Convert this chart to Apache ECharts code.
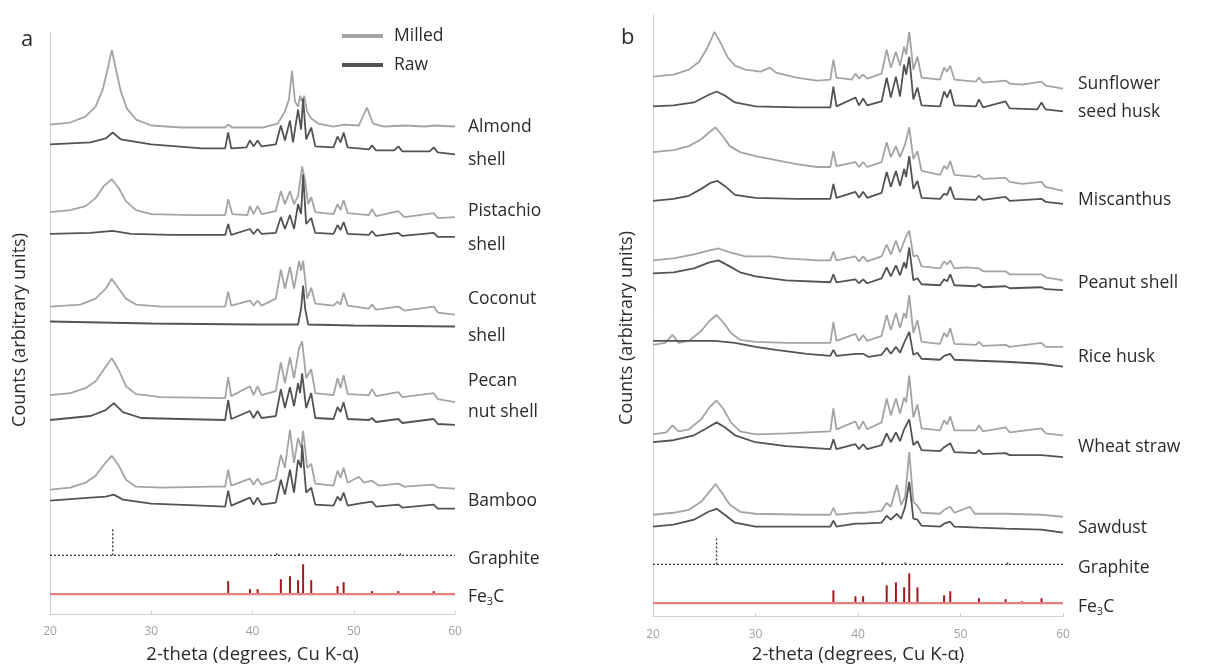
<!DOCTYPE html>
<html>
<head>
<meta charset="utf-8">
<script src="https://cdn.jsdelivr.net/npm/echarts@6/dist/echarts.min.js"></script>
<style>
  html, body { margin: 0; padding: 0; background: #fff; }
  #chart { width: 1210px; height: 669px; }
</style>
</head>
<body>
<div id="chart"></div>
<script>
// x ticks (2-theta)
const xTicks = [20, 30, 40, 50, 60];

// ---- panel a (stacked counts, arbitrary units) ----
const almondMilled = [[20,492],[22,494],[23.5,500],[24.5,510],[25.2,527],[25.7,548],[26.1,567],[26.5,548],[27,525],[27.6,508],[28.5,497],[30,491],[33,489],[37.3,489],[37.6,492],[38,489],[41,489],[42.5,493],[43.2,505],[43.6,517],[43.9,546],[44.2,515],[44.5,510],[44.7,521],[44.9,515],[45.1,521],[45.4,505],[45.8,498],[46.5,493],[48,490],[49,492],[50.5,491],[51.3,509],[51.9,493],[53,490],[55,491],[57,490],[58,491],[60,490]];
const almondRaw = [[20,472],[24,474],[25.5,478],[26.2,484],[27,477],[30,472],[35,468],[37.3,468],[37.6,484],[37.9,468],[39.4,469],[39.75,476],[40.1,470],[40.5,476],[40.9,470],[42.3,472],[42.8,491],[43.2,476],[43.7,496],[44,474],[44.5,507],[44.8,487],[45,518],[45.3,477],[45.8,489],[46.2,470],[48,469],[48.4,480],[48.7,474],[49,484],[49.4,469],[51.5,467],[51.8,471],[52.2,466],[54,466],[54.4,470],[54.8,465],[57.5,465],[57.9,469],[58.3,464],[60,462]];
const pistachioMilled = [[20,404],[22,406],[23.5,410],[24.5,418],[25.3,430],[26.1,437],[26.8,428],[27.5,415],[28.5,406],[30,402],[34,401],[37.3,401],[37.6,417],[38,402],[39.5,401],[39.75,410],[40.1,402],[40.5,410],[40.9,402],[42.3,405],[42.8,425],[43.2,412],[43.7,425],[44.1,412],[44.5,420],[44.9,450],[45.2,435],[45.5,412],[45.8,419],[46.2,404],[48,402],[48.4,412],[48.7,406],[49,416],[49.4,403],[51.5,401],[51.8,407],[52.2,400],[54.4,405],[55,399],[57.9,403],[58.3,398],[60,399]];
const pistachioRaw = [[20,382],[24,383],[26.2,385],[28,382],[32,381],[37.3,381],[37.6,392],[37.9,381],[39.75,387],[40.1,382],[40.5,387],[40.9,382],[42.3,383],[42.8,399],[43.2,387],[43.7,401],[44.1,387],[44.5,412],[44.8,402],[45,442],[45.3,392],[45.8,398],[46.2,383],[48,382],[48.4,391],[48.7,386],[49,394],[49.4,382],[51.5,381],[51.8,385],[52.2,380],[54.4,383],[54.8,380],[57.9,383],[58.3,379],[60,379]];
const coconutMilled = [[20,309],[23,311],[24.5,317],[25.5,327],[26.1,337],[26.8,327],[27.5,317],[28.5,311],[31,309],[37.3,309],[37.6,324],[37.9,310],[39.75,315],[40.1,310],[40.5,315],[40.9,310],[42.3,317],[42.8,346],[43.2,327],[43.7,349],[44.1,327],[44.6,355],[44.8,345],[45,355],[45.4,317],[45.8,328],[46.2,312],[48,310],[48.4,314],[48.7,311],[49,323],[49.4,310],[51.5,307],[51.8,311],[52.2,306],[54.4,309],[55,305],[57.9,309],[58.3,303],[60,301]];
const coconutRaw = [[20,294],[30,292],[40,291],[44.5,291],[44.8,307],[45,330],[45.2,307],[45.5,291],[50,290],[60,289]];
const pecanMilled = [[20,220],[22,222],[23.5,227],[24.5,234],[25.4,247],[26.1,257],[26.8,245],[27.5,229],[28.5,221],[31,218],[37.3,217],[37.6,238],[37.9,219],[39.75,229],[40.1,220],[40.5,229],[40.9,220],[42.3,224],[42.8,253],[43.2,232],[43.7,258],[44.1,237],[44.6,267],[44.9,274],[45.3,237],[45.8,246],[46.2,222],[48,220],[48.4,237],[48.7,227],[49,240],[49.4,221],[51.5,220],[51.8,226],[52.2,219],[54.4,223],[54.8,218],[57.9,222],[58.3,216],[60,213]];
const pecanRaw = [[20,195],[24,199],[25.5,205],[26.3,212],[27.2,203],[29,197],[33,196],[37.3,195],[37.6,215],[37.9,196],[39.75,204],[40.1,197],[40.5,204],[40.9,197],[42.3,199],[42.8,226],[43.2,207],[43.7,228],[44.1,209],[44.5,232],[44.7,222],[44.9,242],[45.3,207],[45.8,222],[46.2,197],[48,196],[48.4,208],[48.7,203],[49,213],[49.4,196],[51.5,195],[51.8,197],[52.2,193],[54.4,196],[54.8,192],[57.9,196],[58.3,191],[60,190]];
const bambooMilled = [[20,125],[22,127],[23.5,132],[24.5,139],[25.4,151],[26.1,159],[26.8,149],[27.5,135],[28.5,128],[31,127],[36,128],[37.3,128],[37.6,145],[37.9,129],[39.75,136],[40.1,130],[40.5,136],[40.9,130],[42.3,135],[42.8,160],[43.2,147],[43.7,185],[44.1,152],[44.5,177],[44.8,167],[45,184],[45.4,147],[45.8,151],[46.2,131],[48,129],[48.4,144],[48.7,137],[49,147],[49.4,132],[50.5,138],[51,132],[51.8,134],[52.5,129],[54.4,131],[55,128],[57.9,130],[58.3,127],[60,126]];
const bambooRaw = [[20,114],[24,117],[25.5,118],[26.3,120],[27.2,115],[30,111],[35,109],[37.3,108],[37.6,124],[37.9,109],[39.75,117],[40.1,110],[40.5,117],[40.9,110],[42.3,112],[42.8,135],[43.2,120],[43.7,145],[44.1,122],[44.5,155],[44.8,147],[44.9,170],[45.3,122],[45.8,127],[46.2,110],[48,109],[48.4,118],[48.7,114],[49,122],[49.4,109],[50.5,111],[51.8,113],[52.2,108],[54.4,110],[54.8,107],[57.9,110],[58.3,106],[60,106]];

// ---- panel b ----
const sunflowerMilled = [[20,543],[22,545],[23.5,550],[24.5,558],[25.3,572],[26,588],[26.7,575],[27.3,562],[28,554],[29,550],[30.5,548],[31.4,552],[32,547],[34,542],[36,539],[37.3,540],[37.6,560],[37.9,542],[39.4,540],[39.75,546],[40.1,541],[40.5,545],[40.9,541],[42.3,546],[42.8,570],[43.2,552],[43.7,568],[44.1,554],[44.5,573],[44.7,565],[45,588],[45.4,550],[45.8,563],[46.2,542],[48,540],[48.4,552],[48.7,548],[49,554],[49.4,540],[51.5,538],[51.8,542],[52.2,537],[54.4,539],[54.8,536],[56,535],[57.9,538],[58.3,534],[60,531]];
const sunflowerRaw = [[20,513],[22,514],[24,517],[25.3,524],[26.2,528],[27,524],[28,517],[30,513],[34,512],[37.3,512],[37.6,533],[37.9,513],[39.75,522],[40.1,514],[40.5,521],[40.9,514],[42.3,518],[42.8,542],[43.2,522],[43.7,543],[44.1,523],[44.5,555],[44.7,545],[45,563],[45.4,520],[45.8,532],[46.2,514],[48,513],[48.4,528],[48.7,522],[49,530],[49.4,514],[51.5,513],[51.8,520],[52.2,512],[54.4,518],[54.8,511],[57.5,510],[57.9,517],[58.3,510],[60,508]];
const miscanthusMilled = [[20,467],[22,469],[23.5,473],[24.7,480],[25.5,487],[26.1,492],[26.8,483],[27.5,473],[28.5,467],[30,463],[32,459],[34,455],[36,452],[37.3,452],[37.6,468],[37.9,453],[39.75,457],[40.1,452],[40.5,457],[40.9,452],[42.3,457],[42.8,477],[43.2,462],[43.7,473],[44.1,462],[44.6,475],[45,492],[45.4,460],[45.8,468],[46.2,448],[48,444],[48.4,453],[48.7,450],[49,458],[49.4,444],[51.5,442],[51.8,444],[52.2,440],[54.4,441],[54.8,437],[56,435],[57.9,437],[58.3,432],[60,428]];
const miscanthusRaw = [[20,418],[22,420],[23.5,423],[24.7,430],[25.6,436],[26.3,438],[27,433],[28,424],[30,421],[34,420],[37.3,420],[37.6,435],[37.9,421],[39.75,427],[40.1,421],[40.5,427],[40.9,421],[42.3,426],[42.8,447],[43.2,432],[43.7,448],[44.1,433],[44.5,450],[44.7,442],[45,463],[45.4,430],[45.8,438],[46.2,421],[48,420],[48.4,425],[48.7,424],[49,432],[49.4,420],[51.5,419],[51.8,423],[52.2,419],[54.4,422],[54.8,418],[57.9,420],[58.3,417],[60,415]];
const peanutMilled = [[20,358],[22,360],[24,364],[25.5,368],[26.4,370],[27.5,366],[29,362],[31.4,362],[33,360],[36,358],[37.3,358],[37.6,367],[37.9,358],[39.75,362],[40.1,357],[40.5,362],[40.9,357],[42.3,362],[42.8,374],[43.2,364],[43.7,378],[44.1,366],[44.6,380],[45,388],[45.4,362],[45.8,363],[46.2,352],[48,350],[48.4,357],[48.7,354],[49,358],[49.4,350],[50.5,351],[51.8,350],[52.2,347],[54.4,347],[54.8,344],[57.9,344],[58.3,341],[60,338]];
const peanutRaw = [[20,345],[22,346],[24,350],[25.5,356],[26.4,358],[27.3,353],[28.5,346],[30,342],[33,338],[37.3,336],[37.6,344],[37.9,336],[39.75,339],[40.1,335],[40.5,339],[40.9,335],[42.3,340],[42.8,351],[43.2,342],[43.7,353],[44.1,343],[44.5,356],[44.7,350],[45,371],[45.4,338],[45.8,340],[46.2,334],[48,333],[48.4,339],[48.7,337],[49,344],[49.4,333],[51.5,332],[51.8,334],[52.2,331],[54.4,332],[54.8,330],[57.9,331],[58.3,329],[60,328]];
const riceMilled = [[20,273],[21.2,275],[21.9,283],[22.5,275],[23.5,277],[24.7,287],[25.5,297],[26.2,303],[26.9,295],[27.6,285],[28.5,278],[30,276],[33,275],[37.3,275],[37.6,296],[37.9,277],[39.75,284],[40.1,277],[40.5,283],[40.9,277],[42.3,282],[42.8,303],[43.2,288],[43.7,305],[44.1,290],[44.5,305],[44.7,300],[45,323],[45.4,285],[45.8,298],[46.2,276],[48,274],[48.4,285],[48.7,281],[49,290],[49.4,274],[51.5,273],[51.8,276],[52.2,272],[54.4,273],[54.8,271],[57.9,275],[58.3,271],[60,271]];
const riceRaw = [[20,277],[22,277],[24,277],[26,277],[28,275],[30,271],[32,268],[35,264],[37.3,262],[37.6,268],[37.9,262],[39.75,264],[40.5,264],[41,261],[42.3,263],[42.8,270],[43.2,264],[43.7,271],[44.1,265],[44.5,275],[45,286],[45.4,263],[45.8,265],[46.2,259],[48,258],[48.4,262],[49,264],[49.4,258],[51.8,257],[54.4,256],[57.9,254],[60,251]];
const wheatMilled = [[20,183],[21.3,185],[21.9,192],[22.5,186],[23.5,188],[24.7,198],[25.5,210],[26.2,217],[26.9,208],[27.6,195],[28.5,186],[30,183],[33,184],[37.3,186],[37.6,209],[37.9,188],[39.75,196],[40.1,188],[40.5,196],[40.9,188],[42.3,195],[42.8,219],[43.2,202],[43.7,219],[44.1,204],[44.5,220],[44.7,215],[45,242],[45.4,200],[45.8,213],[46.2,189],[48,187],[48.4,197],[48.7,193],[49,201],[49.4,187],[51.5,187],[51.8,192],[52.2,186],[54.4,190],[54.8,185],[57.9,189],[58.3,184],[60,182]];
const wheatRaw = [[20,175],[22,177],[24,182],[25.4,190],[26.2,195],[27,190],[28,182],[30,175],[33,171],[37.3,168],[37.6,178],[37.9,168],[39.75,173],[40.1,168],[40.5,173],[40.9,168],[42.3,172],[42.8,184],[43.2,175],[43.7,185],[44.1,176],[44.5,188],[45,198],[45.4,172],[45.8,176],[46.2,167],[48,166],[48.4,170],[49,174],[49.4,165],[51.5,164],[51.8,167],[52.2,163],[54.4,164],[54.8,162],[57.9,162],[60,160]];
const sawdustMilled = [[20,102],[22,104],[23.5,107],[24.7,115],[25.5,125],[26.1,133],[26.8,123],[27.5,112],[28.5,105],[30,103],[35,102],[37.3,102],[37.6,109],[37.9,102],[39.75,104],[40.5,104],[42.3,106],[42.8,114],[43.2,110],[43.8,132],[44.2,112],[44.6,120],[45,165],[45.4,115],[45.8,111],[46.2,104],[48,103],[48.4,107],[49,110],[49.4,104],[50.9,110],[51.4,103],[54.4,103],[57.9,102],[60,100]];
const sawdustRaw = [[20,90],[22,92],[24,97],[25.4,105],[26.2,108],[27,102],[28,94],[30,90],[35,90],[37.3,90],[37.6,96],[37.9,90],[39.75,93],[40.5,93],[42.3,94],[42.8,101],[43.2,97],[43.8,103],[44.2,98],[44.6,110],[45,135],[45.4,98],[45.8,97],[46.2,91],[48,90],[48.4,93],[49,95],[49.4,90],[51.8,89],[54.4,88],[57.9,87],[60,84]];

// ---- reference patterns (stick positions / heights) ----
const graphitePos = [26.2, 42.4, 44.6, 54.6];
const graphiteHA = [28, 3, 3, 2];
const graphiteHB = [28, 3, 3, 2];
const graphiteLevelA = 59, graphiteLevelB = 52;
const fe3cPos = [37.6, 39.75, 40.5, 42.8, 43.7, 44.5, 45.0, 45.8, 48.4, 49.0, 51.8, 54.4, 56.0, 57.9];
const fe3cHA = [13, 5, 5, 15, 18, 14, 30, 14, 8, 12, 3, 3, 1, 3];
const fe3cHB = [13, 7, 7, 18, 21, 16, 30, 16, 8, 12, 5, 4, 2, 5];
const fe3cLevelA = 20, fe3cLevelB = 13;

const MILLED = '#a4a4a4', RAW = '#535353', TXT = '#2b2b2b';
const FONT = '"Open Sans", "Noto Sans", sans-serif';

function trace(name, data, idx, color) {
  return {
    type: 'line', name: name, data: data, xAxisIndex: idx, yAxisIndex: idx,
    symbol: 'none', silent: true, animation: false,
    lineStyle: { color: color, width: 1.8 }, itemStyle: { color: color }
  };
}
function sticks(pos, hts, level, idx, color, width, dash) {
  return {
    type: 'custom', xAxisIndex: idx, yAxisIndex: idx, silent: true, animation: false,
    data: pos.map((p, i) => [p, level, level + hts[i]]),
    renderItem: function (params, api) {
      const a = api.coord([api.value(0), api.value(1)]);
      const b = api.coord([api.value(0), api.value(2)]);
      return { type: 'line', shape: { x1: a[0], y1: a[1], x2: b[0], y2: b[1] },
        style: { stroke: color, lineWidth: width, lineDash: dash || null } };
    }
  };
}
function refLine(level, idx, color, width, type) {
  return {
    type: 'line', data: [[20, level], [60, level]], xAxisIndex: idx, yAxisIndex: idx,
    symbol: 'none', silent: true, animation: false,
    lineStyle: { color: color, width: width, type: type }
  };
}

const pairsA = [[almondMilled, almondRaw], [pistachioMilled, pistachioRaw], [coconutMilled, coconutRaw], [pecanMilled, pecanRaw], [bambooMilled, bambooRaw]];
const pairsB = [[sunflowerMilled, sunflowerRaw], [miscanthusMilled, miscanthusRaw], [peanutMilled, peanutRaw], [riceMilled, riceRaw], [wheatMilled, wheatRaw], [sawdustMilled, sawdustRaw]];

const series = [];
pairsA.forEach(p => { series.push(trace('Milled', p[0], 0, MILLED)); series.push(trace('Raw', p[1], 0, RAW)); });
pairsB.forEach(p => { series.push(trace('Milled', p[0], 1, MILLED)); series.push(trace('Raw', p[1], 1, RAW)); });
series.push(refLine(graphiteLevelA, 0, '#333', 1.3, [2, 2]));
series.push(sticks(graphitePos, graphiteHA, graphiteLevelA, 0, '#333', 1.3, [2, 2]));
series.push(refLine(fe3cLevelA, 0, '#e48080', 2.2, 'solid'));
series.push(sticks(fe3cPos, fe3cHA, fe3cLevelA, 0, '#a01820', 2));
series.push(refLine(graphiteLevelB, 1, '#333', 1.3, [2, 2]));
series.push(sticks(graphitePos, graphiteHB, graphiteLevelB, 1, '#333', 1.3, [2, 2]));
series.push(refLine(fe3cLevelB, 1, '#e48080', 2.2, 'solid'));
series.push(sticks(fe3cPos, fe3cHB, fe3cLevelB, 1, '#a01820', 2));

// sample labels
const labelsA = [['Almond', 127], ['shell', 160], ['Pistachio', 211], ['shell', 245], ['Coconut', 299], ['shell', 336], ['Pecan', 381], ['nut shell', 412], ['Bamboo', 501], ['Graphite', 559], ['Fe{s|3}C', 597]];
const labelsB = [['Sunflower', 84], ['seed husk', 112], ['Miscanthus', 200], ['Peanut shell', 283], ['Rice husk', 357], ['Wheat straw', 447], ['Sawdust', 528], ['Graphite', 568], ['Fe{s|3}C', 607]];

function textEl(text, x, y, size, extra) {
  return Object.assign({
    type: 'text', x: x, y: y, silent: true,
    style: { text: text, fill: TXT, font: size + 'px ' + FONT, verticalAlign: 'middle',
      rich: { s: { fontSize: 11, fontFamily: FONT, fill: TXT, padding: [9, 0, 0, 0] } } }
  }, extra || {});
}
const graphics = [];
labelsA.forEach(l => graphics.push(textEl(l[0], 468, l[1], 17.5)));
labelsB.forEach(l => graphics.push(textEl(l[0], 1078, l[1], 17.5)));
graphics.push(textEl('a', 21, 40, 22));
graphics.push(textEl('b', 621, 38, 22));
graphics.push(textEl('Counts (arbitrary units)', 20, 330, 18, { rotation: Math.PI / 2, style: { text: 'Counts (arbitrary units)', fill: TXT, font: '18px ' + FONT, align: 'center', verticalAlign: 'middle' } }));
graphics.push(textEl('Counts (arbitrary units)', 627, 328, 18, { rotation: Math.PI / 2, style: { text: 'Counts (arbitrary units)', fill: TXT, font: '18px ' + FONT, align: 'center', verticalAlign: 'middle' } }));

function xAxis(idx, gap) {
  return {
    type: 'value', gridIndex: idx, min: 20, max: 60, interval: 10,
    name: '2-theta (degrees, Cu K-α)', nameLocation: 'middle', nameGap: gap,
    nameTextStyle: { color: TXT, fontSize: 18.5, fontFamily: FONT },
    axisLine: { lineStyle: { color: '#cfcfcf', width: 1 } },
    axisTick: { show: true, length: 3, inside: true, lineStyle: { color: '#cfcfcf' } },
    axisLabel: { color: '#a0a0a0', fontSize: 12, fontFamily: FONT, margin: 12,
      formatter: v => (xTicks.indexOf(v) >= 0 ? String(v) : '') },
    splitLine: { show: false }
  };
}
function yAxis(idx, max) {
  return {
    type: 'value', gridIndex: idx, min: 0, max: max,
    axisLine: { show: true, lineStyle: { color: '#cfcfcf', width: 1 } },
    axisTick: { show: false }, axisLabel: { show: false }, splitLine: { show: false }
  };
}

const chart = echarts.init(document.getElementById('chart'));
chart.setOption({
  backgroundColor: '#fff',
  animation: false,
  grid: [
    { left: 50, top: 32, width: 405, height: 585 },
    { left: 653, top: 15, width: 410, height: 605 }
  ],
  xAxis: [xAxis(0, 31), xAxis(1, 28)],
  yAxis: [yAxis(0, 585), yAxis(1, 605)],
  legend: {
    data: ['Milled', 'Raw'], orient: 'vertical', left: 337, top: 22,
    icon: 'rect', itemWidth: 41, itemHeight: 4, itemGap: 11,
    textStyle: { color: TXT, fontSize: 17.5, fontFamily: FONT, padding: [0, 0, 0, 6] }
  },
  graphic: graphics,
  series: series
});
</script>
</body>
</html>
